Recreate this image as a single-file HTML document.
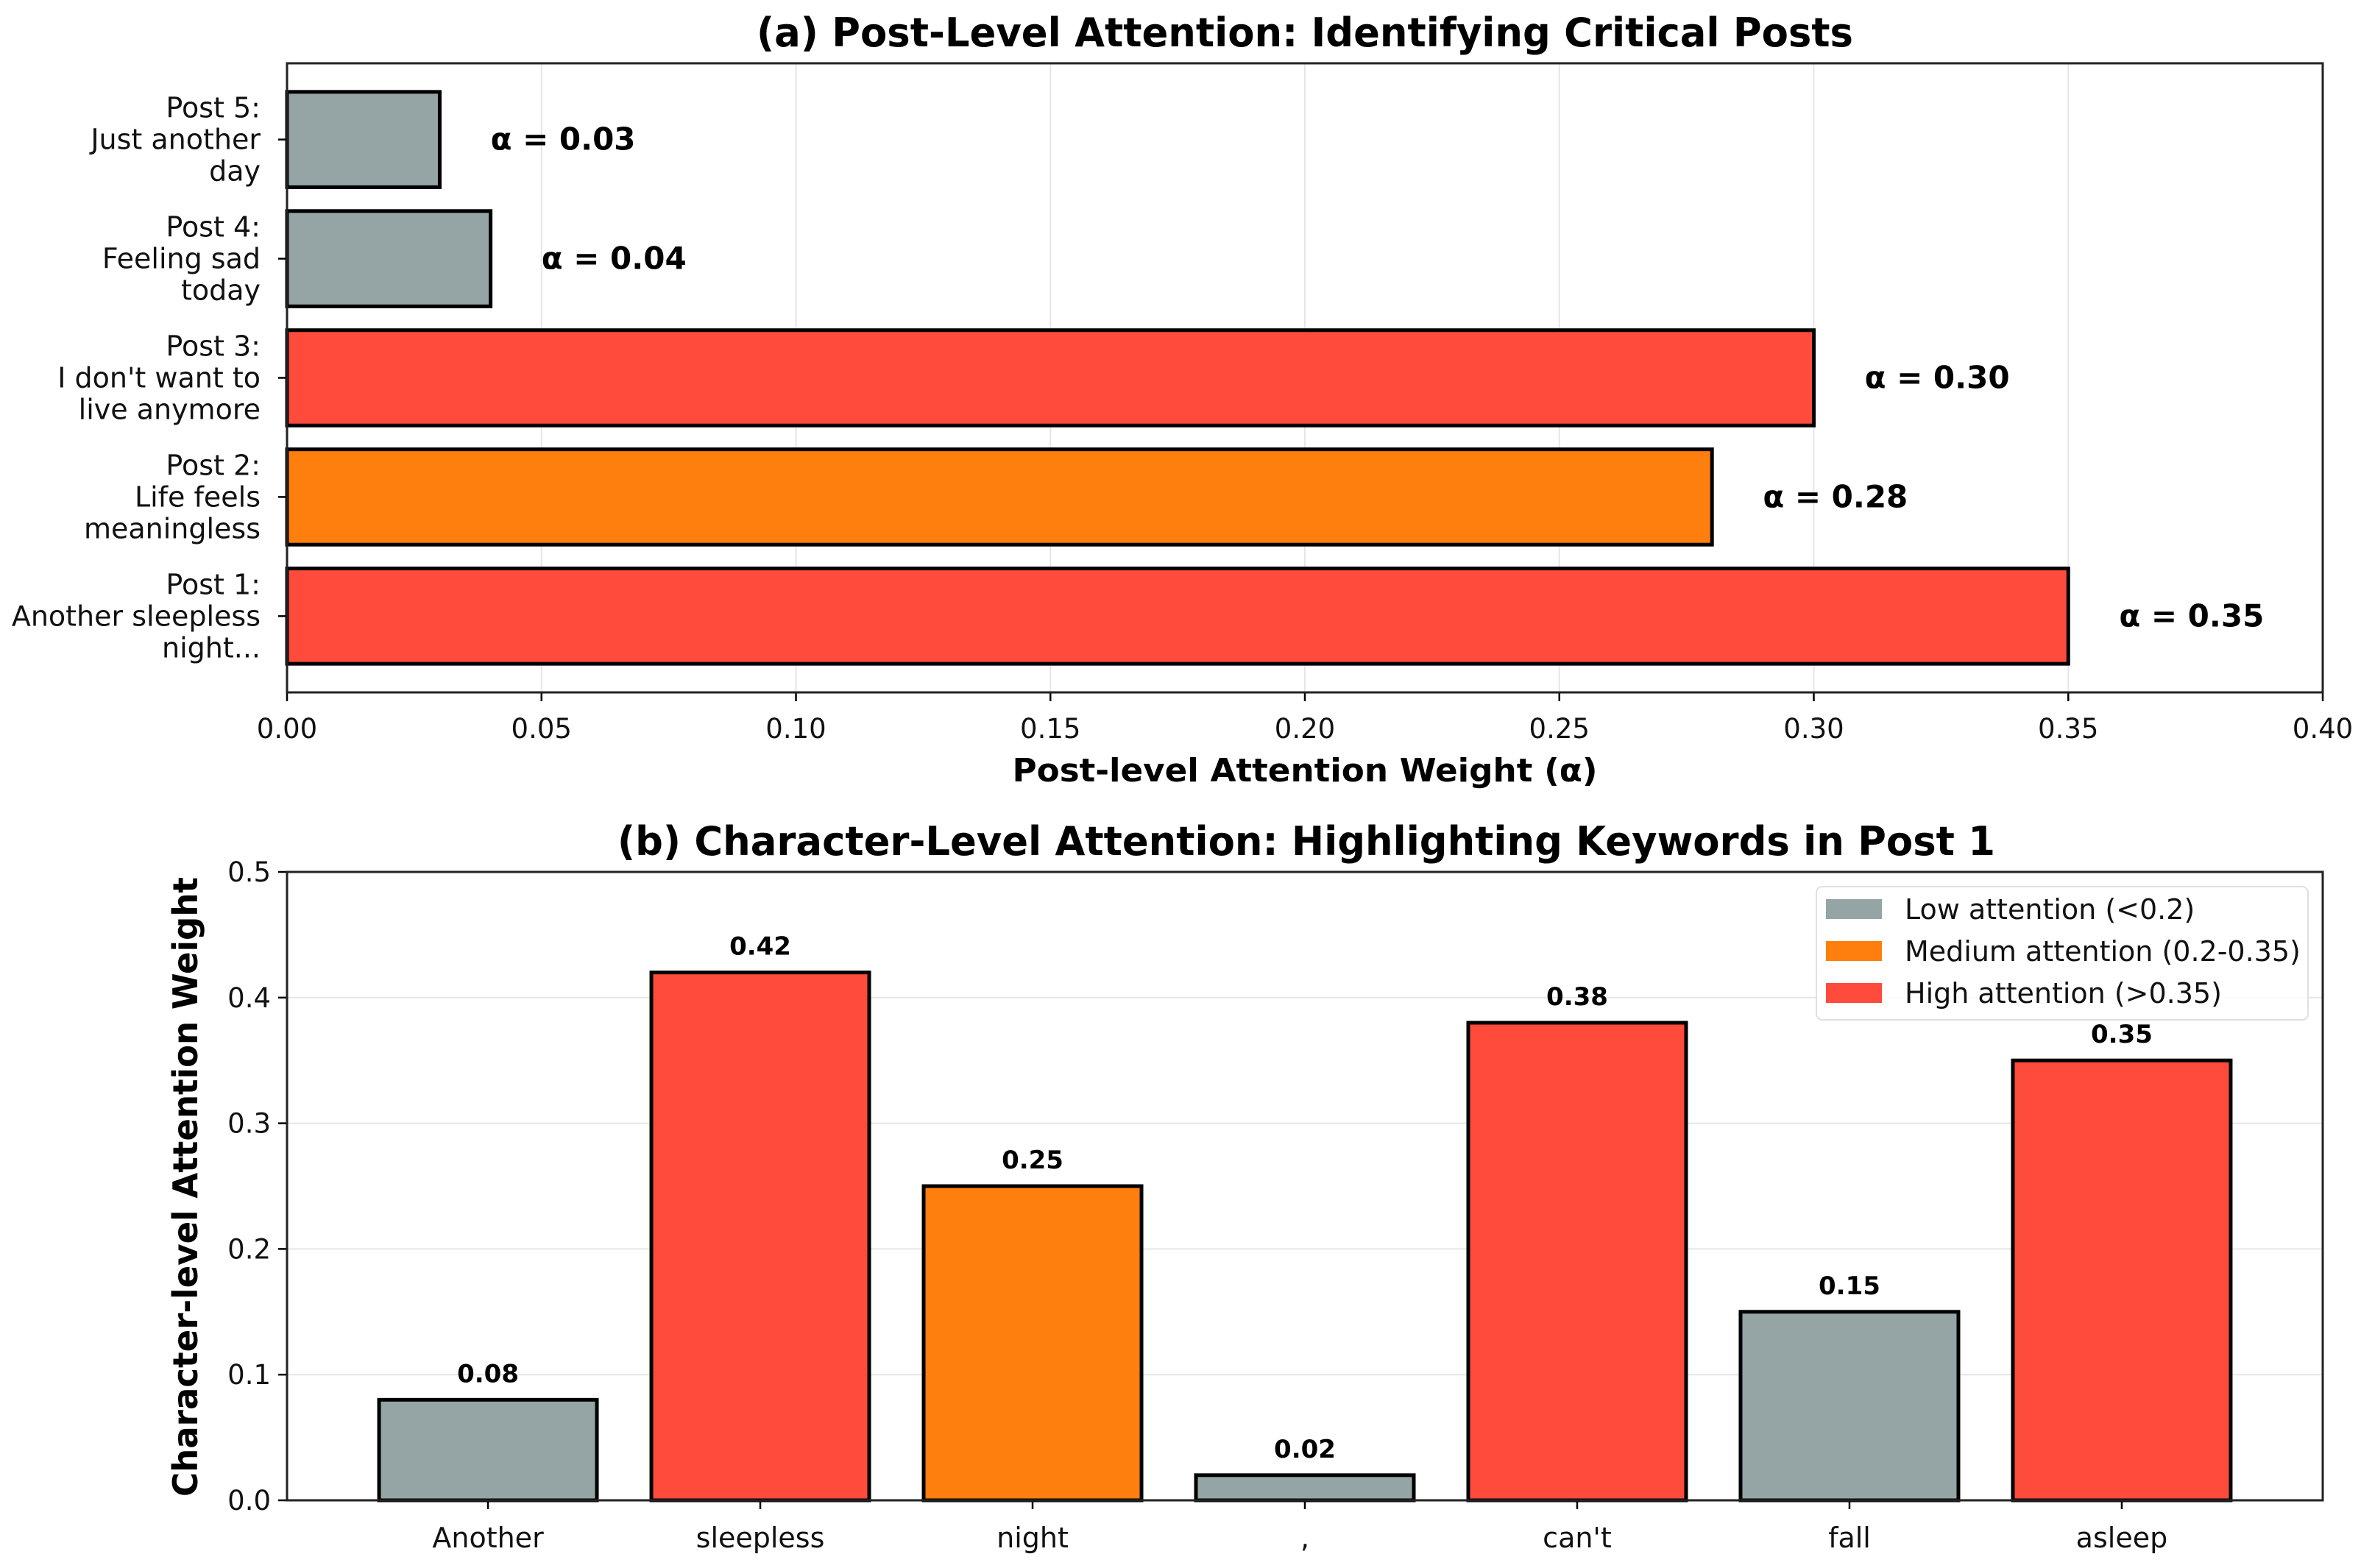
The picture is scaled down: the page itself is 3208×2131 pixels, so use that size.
<!DOCTYPE html>
<html><head><meta charset="utf-8">
<style>
html,body{margin:0;padding:0;background:#fff;}
svg{display:block;font-family:"DejaVu Sans","Liberation Sans",sans-serif;}
</style></head>
<body>
<svg id="fig" width="3208" height="2131" viewBox="0 0 3208 2131" xmlns="http://www.w3.org/2000/svg">
<rect width="3208" height="2131" fill="#fff"/>
<g id="top"></g>
<g id="bot"></g>
</svg>
<script>
// ---- Panel (a) data ----
const postLabels = [
  ["Post 1:","Another sleepless","night..."],
  ["Post 2:","Life feels","meaningless"],
  ["Post 3:","I don't want to","live anymore"],
  ["Post 4:","Feeling sad","today"],
  ["Post 5:","Just another","day"]
];
const postWeights = [0.35, 0.28, 0.30, 0.04, 0.03];
const postColors = ["#ff4b3b","#ff7f0e","#ff4b3b","#95a5a6","#95a5a6"];
const postTicks = [0.00,0.05,0.10,0.15,0.20,0.25,0.30,0.35,0.40];
const postTickLabels = ["0.00","0.05","0.10","0.15","0.20","0.25","0.30","0.35","0.40"];

// ---- Panel (b) data ----
const charWords = ["Another","sleepless","night",",","can't","fall","asleep"];
const charWeights = [0.08, 0.42, 0.25, 0.02, 0.38, 0.15, 0.35];
const charColors = ["#95a5a6","#ff4b3b","#ff7f0e","#95a5a6","#ff4b3b","#95a5a6","#ff4b3b"];
const charTicks = [0.0,0.1,0.2,0.3,0.4,0.5];
const charTickLabels = ["0.0","0.1","0.2","0.3","0.4","0.5"];
const legendLabels = ["Low attention (<0.2)","Medium attention (0.2-0.35)","High attention (>0.35)"];
const legendColors = ["#95a5a6","#ff7f0e","#ff4b3b"];

const NS="http://www.w3.org/2000/svg";
function mk(parent,tag,attrs,text){
  const e=document.createElementNS(NS,tag);
  for(const k in attrs) e.setAttribute(k,attrs[k]);
  if(text!==undefined) e.textContent=text;
  parent.appendChild(e); return e;
}

// ===== Panel (a) =====
const T=document.getElementById('top');
const aL=390,aR=3156,aT=86,aB=941;
const ax=v=>aL+v*(aR-aL)/0.4;
const yLo=-0.64,yHi=4.64;
const ay=v=>aB-(v-yLo)*(aB-aT)/(yHi-yLo);
const unitA=(aB-aT)/(yHi-yLo);

postTicks.forEach((t,i)=>{
  const g=mk(T,'line',{x1:ax(t),x2:ax(t),y1:aT,y2:aB,stroke:'#e6e6e6','stroke-width':2});
  
  
});
postWeights.forEach((v,i)=>{
  const yc=ay(i), h=0.8*unitA;
  const r=mk(T,'rect',{x:ax(0),y:yc-h/2,width:ax(v)-ax(0),height:h,fill:postColors[i],stroke:'#000','stroke-width':5});
  
  
  const lt=mk(T,'text',{x:ax(v+0.01),y:yc+14,'font-size':42,'font-weight':'bold',fill:'#000'},'α = '+v.toFixed(2));
  
  
  const tk=mk(T,'line',{x1:aL-12,x2:aL,y1:yc,y2:yc,stroke:'#000','stroke-width':2.5});
  
  
  postLabels[i].forEach((ln,j)=>{
    const t=mk(T,'text',{x:354,y:yc+13+(j-1)*43,'font-size':38,'text-anchor':'end',fill:'#111'},ln);
    
    
  });
});
postTicks.forEach((t,i)=>{
  const k=mk(T,'line',{x1:ax(t),x2:ax(t),y1:aB,y2:aB+12,stroke:'#000','stroke-width':2.5});
  
  
  const l=mk(T,'text',{x:ax(t),y:1003,'font-size':37,'text-anchor':'middle',fill:'#111'},postTickLabels[i]);
  
  
});
const fa=mk(T,'rect',{x:aL,y:aT,width:aR-aL,height:aB-aT,fill:'none',stroke:'#222','stroke-width':3});


const ta=mk(T,'text',{x:(aL+aR)/2,y:63,'font-size':54,'font-weight':'bold','text-anchor':'middle',textLength:1490,lengthAdjust:'spacingAndGlyphs'},'(a) Post-Level Attention: Identifying Critical Posts');


const xa=mk(T,'text',{x:1773,y:1062,'font-size':44,'font-weight':'bold','text-anchor':'middle',textLength:795,lengthAdjust:'spacingAndGlyphs'},'Post-level Attention Weight (α)');



// ===== Panel (b) =====
const B=document.getElementById('bot');
const bL=390,bR=3156,bT=1185,bB=2039;
const bxLo=-0.738,bxHi=6.738;
const bx=i=>bL+(i-bxLo)*(bR-bL)/(bxHi-bxLo);
const unitB=(bR-bL)/(bxHi-bxLo);
const by=v=>bB-v*(bB-bT)/0.5;

charTicks.forEach((t,i)=>{
  if(t>0&&t<0.5){
    const g=mk(B,'line',{x1:bL,x2:bR,y1:by(t),y2:by(t),stroke:'#e6e6e6','stroke-width':2});
    
    
  }
  const k=mk(B,'line',{x1:bL-12,x2:bL,y1:by(t),y2:by(t),stroke:'#000','stroke-width':2.5});
  
  
  const l=mk(B,'text',{x:bL-22,y:by(t)+13,'font-size':37,'text-anchor':'end',fill:'#111'},charTickLabels[i]);
  
  
});
charWeights.forEach((v,i)=>{
  const w=0.8*unitB, xc=bx(i);
  const r=mk(B,'rect',{x:xc-w/2,y:by(v),width:w,height:by(0)-by(v),fill:charColors[i],stroke:'#000','stroke-width':5});
  
  
  const vl=mk(B,'text',{x:xc,y:by(v)-24,'font-size':34,'font-weight':'bold','text-anchor':'middle'},v.toFixed(2));
  
  
  const k=mk(B,'line',{x1:xc,x2:xc,y1:bB,y2:bB+12,stroke:'#000','stroke-width':2.5});
  
  
  const cl=mk(B,'text',{x:xc,y:2103,'font-size':38,'text-anchor':'middle',fill:'#111'},charWords[i]);
  
  
});
const fb=mk(B,'rect',{x:bL,y:bT,width:bR-bL,height:bB-bT,fill:'none',stroke:'#222','stroke-width':3});


const tb=mk(B,'text',{x:1775,y:1162,'font-size':54,'font-weight':'bold','text-anchor':'middle',textLength:1872,lengthAdjust:'spacingAndGlyphs'},'(b) Character-Level Attention: Highlighting Keywords in Post 1');


const yt=mk(B,'text',{x:0,y:0,'font-size':46,'font-weight':'bold','text-anchor':'middle',transform:'translate(268,1613) rotate(-90)',textLength:842,lengthAdjust:'spacingAndGlyphs'},'Character-level Attention Weight');



// legend
const lg=mk(B,'g',{});


const lb=mk(lg,'rect',{x:2468,y:1205,width:668,height:181,rx:8,fill:'#fff','fill-opacity':0.85,stroke:'#e0e0e0','stroke-width':2});


legendLabels.forEach((t,i)=>{
  const yc=1236+i*57;
  const s=mk(lg,'rect',{x:2481,y:yc-14,width:76,height:27,fill:legendColors[i]});
  
  
  const tx=mk(lg,'text',{x:2588,y:yc+13,'font-size':38,fill:'#111'},t);
  
  
});
</script>
</body></html>
